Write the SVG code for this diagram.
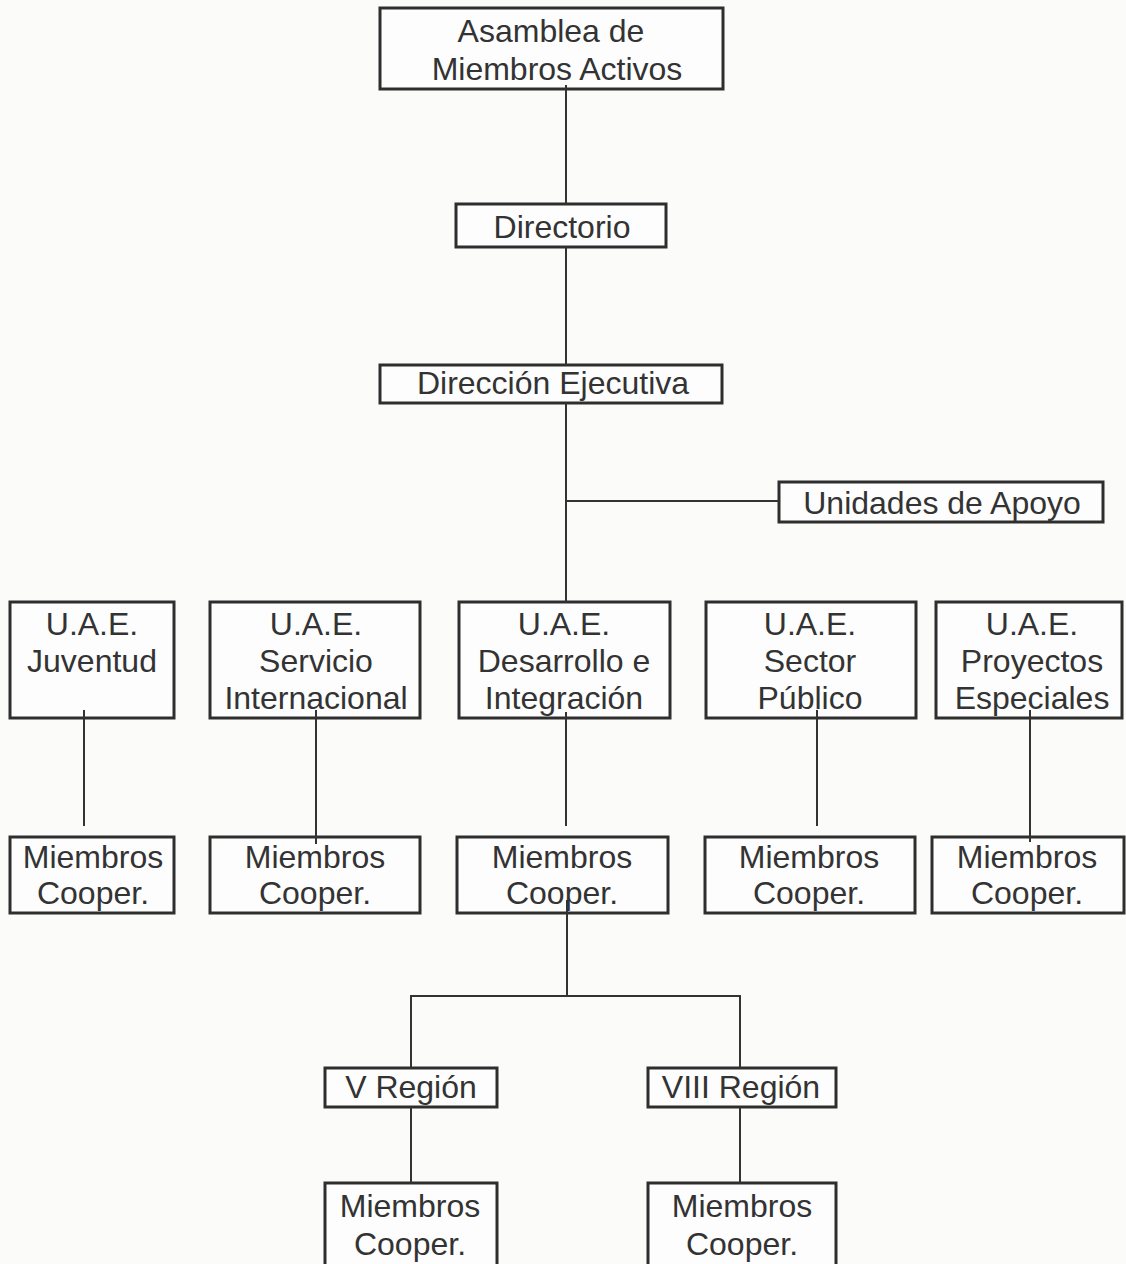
<svg xmlns="http://www.w3.org/2000/svg" width="1126" height="1264" viewBox="0 0 1126 1264">
<style>
.box{fill:#fdfdfd;stroke:#2e2e2e;stroke-width:3}
.ln{stroke:#333;stroke-width:2;fill:none}
text{font-family:"Liberation Sans",Arial,sans-serif;font-size:32px;fill:#333;text-anchor:middle}
</style>
<rect width="1126" height="1264" fill="#fbfbf9"/>
<g id="n-asamblea"><rect class="box" x="380" y="8" width="343" height="81"/><text x="551" y="42">Asamblea de</text><text x="557" y="80">Miembros Activos</text></g>
<g id="n-directorio"><rect class="box" x="456" y="204" width="210" height="43"/><text x="562" y="238">Directorio</text></g>
<g id="n-direccion"><rect class="box" x="380" y="365" width="342" height="38"/><text x="553" y="394">Dirección Ejecutiva</text></g>
<g id="n-apoyo"><rect class="box" x="779" y="482" width="324" height="40"/><text x="942" y="514">Unidades de Apoyo</text></g>
<g id="n-juventud"><rect class="box" x="10" y="602" width="164" height="116"/><text x="92" y="635">U.A.E.</text><text x="92" y="672">Juventud</text></g>
<g id="n-servicio"><rect class="box" x="210" y="602" width="210" height="116"/><text x="316" y="635">U.A.E.</text><text x="316" y="672">Servicio</text><text x="316" y="709">Internacional</text></g>
<g id="n-desarrollo"><rect class="box" x="459" y="602" width="211" height="116"/><text x="564" y="635">U.A.E.</text><text x="564" y="672">Desarrollo e</text><text x="564" y="709">Integración</text></g>
<g id="n-sector"><rect class="box" x="706" y="602" width="210" height="116"/><text x="810" y="635">U.A.E.</text><text x="810" y="672">Sector</text><text x="810" y="709">Público</text></g>
<g id="n-proyectos"><rect class="box" x="936" y="602" width="186" height="116"/><text x="1032" y="635">U.A.E.</text><text x="1032" y="672">Proyectos</text><text x="1032" y="709">Especiales</text></g>
<g id="n-m1"><rect class="box" x="10" y="837" width="164" height="76"/><text x="93" y="868">Miembros</text><text x="93" y="904">Cooper.</text></g>
<g id="n-m2"><rect class="box" x="210" y="837" width="210" height="76"/><text x="315" y="868">Miembros</text><text x="315" y="904">Cooper.</text></g>
<g id="n-m3"><rect class="box" x="457" y="837" width="211" height="76"/><text x="562" y="868">Miembros</text><text x="562" y="904">Cooper.</text></g>
<g id="n-m4"><rect class="box" x="705" y="837" width="210" height="76"/><text x="809" y="868">Miembros</text><text x="809" y="904">Cooper.</text></g>
<g id="n-m5"><rect class="box" x="932" y="837" width="192" height="76"/><text x="1027" y="868">Miembros</text><text x="1027" y="904">Cooper.</text></g>
<g id="n-vregion"><rect class="box" x="325" y="1068" width="172" height="39"/><text x="411" y="1098">V Región</text></g>
<g id="n-viiiregion"><rect class="box" x="648" y="1068" width="188" height="39"/><text x="741" y="1098">VIII Región</text></g>
<g id="n-m6"><rect class="box" x="325" y="1183" width="172" height="84"/><text x="410" y="1217">Miembros</text><text x="410" y="1255">Cooper.</text></g>
<g id="n-m7"><rect class="box" x="648" y="1183" width="188" height="84"/><text x="742" y="1217">Miembros</text><text x="742" y="1255">Cooper.</text></g>
<g id="connectors">
<path class="ln" d="M566 85V204"/>
<path class="ln" d="M566 247V365"/>
<path class="ln" d="M566 403V602M566 501H779"/>
<path class="ln" d="M84 710V826"/>
<path class="ln" d="M316 710V844"/>
<path class="ln" d="M566 712V826"/>
<path class="ln" d="M817 710V826"/>
<path class="ln" d="M1030 710V842"/>
<path class="ln" d="M567 900V996M411 1068V996H740V1068"/>
<path class="ln" d="M411 1107V1183"/>
<path class="ln" d="M740 1107V1183"/>
</g>
</svg>
